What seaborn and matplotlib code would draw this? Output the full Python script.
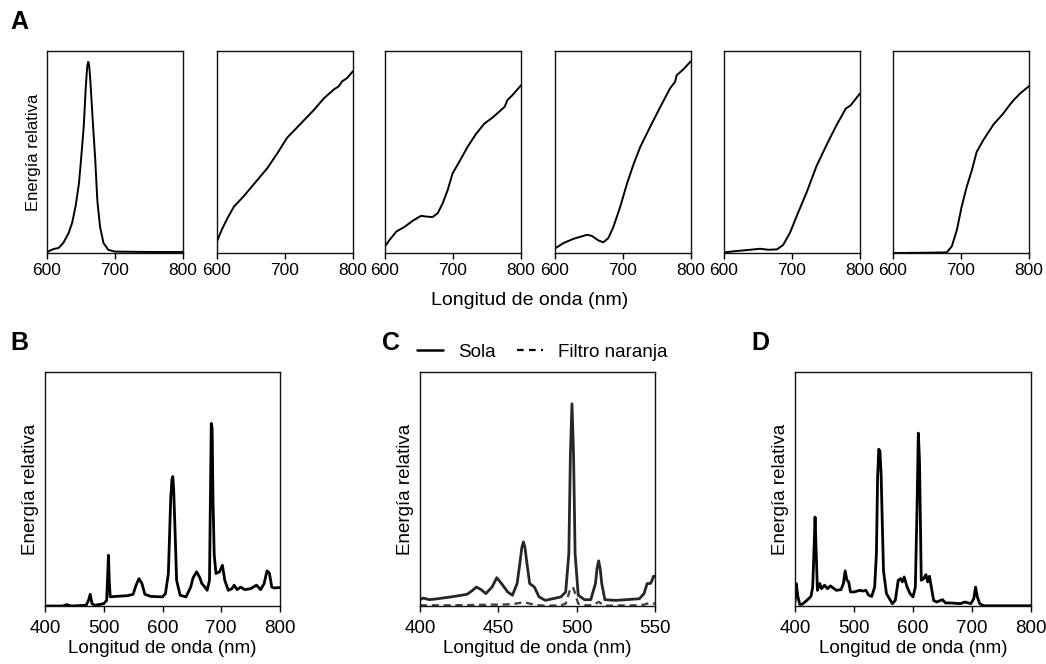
import numpy as np
import pandas as pd
import matplotlib
matplotlib.use("Agg")
import matplotlib.pyplot as plt
import seaborn as sns
from matplotlib.lines import Line2D

# ---------------- Data ----------------
# Panel A: six curves, 600-800 nm
a1_nm = [600, 610, 617, 624, 632, 637, 642, 647, 650, 654, 657, 658.5, 659.5, 660.5, 661.5, 662.5, 664, 667, 671, 674, 678, 683, 690, 700, 750, 800]
a1_val = [0.5, 2, 2.5, 5, 10, 15, 23, 34.5, 46, 62.5, 82, 89.5, 93, 94.6, 94, 91, 84, 67, 46, 26, 13, 5, 1.6, 0.7, 0.5, 0.5]

a2_nm = [600, 607, 615, 625, 639, 654, 674, 689, 703, 723, 743, 757, 772, 779, 784, 791, 800]
a2_val = [5.8, 11.5, 17, 23, 28, 34, 42, 49.5, 57, 64, 71, 76.5, 81, 82.5, 85, 86.5, 90]

a3_nm = [600, 607, 617, 629, 641, 653, 661.5, 670, 677.5, 685, 692, 699.5, 709, 721.5, 734, 746, 758, 768, 776, 780, 787, 800]
a3_val = [3.3, 6.6, 10.7, 13, 16, 18.4, 18, 17.8, 19.7, 24.7, 31, 39.5, 45, 52.6, 59, 64, 67, 70, 72.4, 75.7, 78, 83]

a4_nm = [600, 613, 627, 647, 654, 664, 671, 678.5, 686, 696, 706, 716, 725.5, 740, 755, 769, 776.5, 779, 789, 800]
a4_val = [2.3, 5, 7, 9, 8.5, 6.2, 5.3, 7.4, 13, 23, 34.5, 44.4, 52.6, 62.5, 72.4, 81.4, 84.7, 88, 91, 95]

a5_nm = [600, 619, 638.5, 653, 665.5, 678, 687, 697, 709, 721.5, 736, 751, 765, 775, 779, 786, 800]
a5_val = [0.3, 1, 1.6, 2.1, 1.6, 1.8, 4, 10, 20, 30, 43, 53.6, 63, 69, 71.5, 73, 79]

a6_nm = [600, 640, 679, 686.5, 694, 701, 708.6, 716, 723, 733, 747.7, 762, 772, 777.5, 787, 800]
a6_val = [0, 0.1, 0.3, 3.3, 11.5, 23, 33, 41, 50, 56, 63.6, 69, 73.5, 75.7, 79, 82.6]

# Panel B: lamp spectrum 400-800 nm
b_nm = [400, 430, 437, 445, 470, 474, 477, 480, 485, 500, 505, 506.5, 508, 509.5, 511, 520, 540, 550, 555, 560, 565,
        570, 580, 600, 605, 610, 612, 614, 616, 617.5, 619, 621, 624, 630, 640, 648, 652, 658, 663, 667, 672, 676, 680,
        681.5, 683, 684.5, 686, 688, 691, 697, 702, 706, 712, 718, 722, 727, 733, 740, 750, 760, 767, 773, 776, 778, 780,
        782, 786, 790, 800]
b_val = [0, 0, 0.6, 0, 0.3, 2.4, 5, 1, 0.3, 1, 2.4, 12, 21.7, 10, 3.9, 4.1, 4.4, 5, 8.9, 11.7, 9.6,
         5, 4.1, 3.9, 5.3, 13.9, 30, 46, 54, 55.3, 50, 35, 11, 4.6, 3.9, 8.1, 12, 14.6, 12.4, 9.6, 8.1, 6.7, 11,
         45, 78, 76, 45, 22, 13.9, 14.6, 17.4, 11, 6.7, 7.4, 8.9, 7, 8.1, 7, 7.4, 8.9, 7, 9.6, 13, 15, 14.6,
         13.9, 8.1, 7.7, 7.9]

# Panel C: 400-550 nm, alone vs orange filter
c_nm = [400, 402, 406, 410, 420, 430, 433, 436, 439, 442, 446, 449, 452, 456, 459, 462, 464, 465, 466, 467, 468,
        470, 473, 476, 480, 490, 493, 495, 496, 497, 498, 499, 501, 505, 509, 512, 513, 514, 515, 516, 518, 525, 540, 543,
        545, 547, 548, 549, 550]
c_sola = [2.7, 3.4, 2.7, 3, 3.9, 5, 6.4, 8.1, 7, 5.3, 8.1, 12.1, 9.6, 6, 4.6, 9.6, 19.6, 25, 27.4, 25, 19.6,
          9.6, 8.1, 3.9, 2.4, 3.9, 6, 22.4, 65, 86.4, 65, 22.4, 4.6, 2.7, 2.7, 9.6, 16, 19.3, 16, 9.6, 2.7, 2.4, 3.1, 5.3,
          9.6, 9.6, 10.7, 12.7, 12.7]
c_filtro = [0.3, 0.3, 0.3, 0.3, 0.3, 0.4, 0.4, 0.5, 0.5, 0.5, 0.6, 0.6, 0.6, 0.7, 0.9, 1.1, 1.4, 1.6, 1.7, 1.6, 1.4,
            1.0, 0.6, 0.3, 0.1, 0.3, 1.0, 5.3, 7.5, 8.1, 7.5, 5.3, 1.0, 0.3, 0.3, 0.8, 1.4, 1.7, 1.4, 0.8, 0.1, 0.2, 0.3, 0.6,
            1.0, 1.2, 1.1, 1.0, 1.0]

# Panel D: lamp spectrum 400-800 nm
d_nm = [400, 402, 405, 408, 412, 420, 427, 430, 432, 434, 436, 438, 442, 445, 450, 455, 460, 470, 478,
        482, 485, 488, 491, 494, 500, 510, 515, 520, 525, 530, 535, 538, 540, 542, 544, 546, 548, 550, 555, 565,
        570, 575, 579, 582, 585, 590, 595, 600, 604, 607, 609, 611, 614, 618, 622, 625, 628, 631, 635,
        640, 650, 655, 665, 680, 688, 698, 703, 706, 709, 713, 720, 760, 800]
d_val = [1.7, 9.6, 3.9, 0.7, 0.7, 2.4, 4.1, 8.1, 22.4, 38, 22.4, 6.7, 9.6, 7.4, 8.9, 7.4, 8.6, 6.7, 7,
         9.6, 15, 11, 10.3, 6, 6, 6.7, 6.4, 6.7, 4.6, 4.1, 8.1, 22.4, 55, 67, 66, 56, 35, 15, 5.3, 1,
         2.4, 11, 11.7, 10.3, 12.4, 8.1, 5.3, 3.9, 8.1, 43.9, 73.9, 62.4, 11, 11.7, 13.4, 10.3, 12.7, 8.1, 2.4,
         1.7, 2.7, 1.3, 1.3, 1, 1.7, 1, 3.1, 8.1, 3.9, 1, 0.1, 0.1, 0.1]

x_label = "Longitud de onda (nm)"
y_label = "Energía relativa"
legend_labels = ["Sola", "Filtro naranja"]
panel_letters = ["A", "B", "C", "D"]

# ---------------- Style ----------------
sns.set_style("ticks")
plt.rcParams["font.family"] = ["Liberation Sans", "DejaVu Sans"]
plt.rcParams["axes.linewidth"] = 1.0
plt.rcParams["text.color"] = "black"
plt.rcParams["axes.labelcolor"] = "black"
plt.rcParams["xtick.color"] = "black"
plt.rcParams["ytick.color"] = "black"

W, H = 1046, 664
fig = plt.figure(figsize=(W / 100, H / 100), dpi=100)


def add_ax(left, top, right, bottom):
    return fig.add_axes([left / W, 1 - bottom / H, (right - left) / W, (bottom - top) / H])


def style_ax(ax, xlim, xticks, fs, pad):
    ax.set_xlim(*xlim)
    ax.set_ylim(0, 100)
    ax.set_xticks(xticks)
    ax.set_yticks([])
    ax.tick_params(axis="x", direction="out", length=4, width=1, labelsize=fs, pad=pad,
                   colors="black", labelcolor="black")
    for s in ax.spines.values():
        s.set_visible(True)
        s.set_color("#111111")
        s.set_linewidth(1.0)
    ax.set_xlabel("")
    ax.set_ylabel("")


# Top row (A)
top_lefts = [47, 217, 385, 555, 724, 893]
a_data = [(a1_nm, a1_val), (a2_nm, a2_val), (a3_nm, a3_val),
          (a4_nm, a4_val), (a5_nm, a5_val), (a6_nm, a6_val)]
for i, (lx, (xs, ys)) in enumerate(zip(top_lefts, a_data)):
    ax = add_ax(lx, 51, lx + 136, 253)
    sns.lineplot(x=xs, y=ys, ax=ax, color="black", linewidth=1.4)
    style_ax(ax, (600, 800), [600, 700, 800], 12.5, 3)
    if i == 0:
        ax.set_ylabel(y_label, fontsize=12, labelpad=4, color="black")

fig.text(530 / W, 1 - 300 / H, x_label, ha="center", va="center", fontsize=14, color="black")

# Bottom row
axB = add_ax(45, 372, 280, 606)
sns.lineplot(x=b_nm, y=b_val, ax=axB, color="black", linewidth=2.0)
style_ax(axB, (400, 800), [400, 500, 600, 700, 800], 13.5, 6)

axC = add_ax(420, 372, 655, 606)
sns.lineplot(x=c_nm, y=c_sola, ax=axC, color="#262626", linewidth=2.0)
sns.lineplot(x=c_nm, y=c_filtro, ax=axC, color="#444444", linewidth=1.7, linestyle=(0, (3, 2)))
style_ax(axC, (400, 550), [400, 450, 500, 550], 13.5, 6)
handles = [Line2D([], [], color="black", lw=1.8),
           Line2D([], [], color="black", lw=1.6, linestyle=(0, (3, 2.4)))]
axC.legend(handles, legend_labels, loc="center", bbox_to_anchor=(0.52, 1.085), ncol=2,
           frameon=False, fontsize=13.5, handlelength=1.4, handletextpad=0.8, columnspacing=1.1,
           borderaxespad=0, labelcolor="black")

axD = add_ax(795, 372, 1031, 606)
sns.lineplot(x=d_nm, y=d_val, ax=axD, color="black", linewidth=2.0)
style_ax(axD, (400, 800), [400, 500, 600, 700, 800], 13.5, 6)

for ax in (axB, axC, axD):
    ax.set_xlabel(x_label, fontsize=13.5, labelpad=2, color="black")
    ax.set_ylabel(y_label, fontsize=13.5, labelpad=4, color="black")

# Panel letters
fig.text(10 / W, 1 - 22 / H, "A", fontsize=18, fontweight="bold", va="center", ha="left")
fig.text(10 / W, 1 - 343 / H, "B", fontsize=18, fontweight="bold", va="center", ha="left")
fig.text(382 / W, 1 - 343 / H, "C", fontsize=18, fontweight="bold", va="center", ha="left")
fig.text(751 / W, 1 - 343 / H, "D", fontsize=18, fontweight="bold", va="center", ha="left")

fig.savefig("out.png", dpi=100)
